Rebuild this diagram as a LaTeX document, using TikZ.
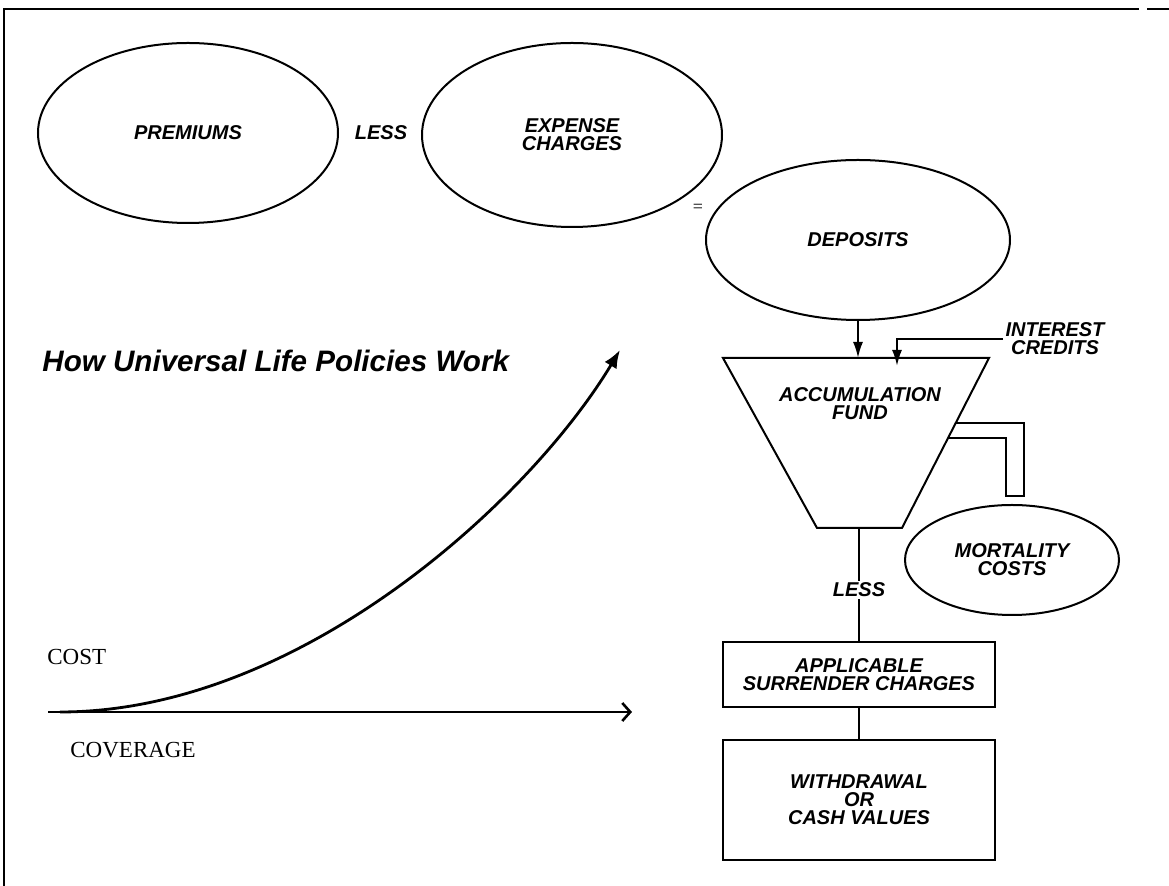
\documentclass[tikz,border=0pt]{standalone}
\usepackage{fontspec}
\setmainfont{Liberation Serif}
\newfontfamily\labfont{Liberation Sans}
\usetikzlibrary{arrows.meta,shapes.geometric}
\begin{document}
\begin{tikzpicture}[x=0.5pt,y=-0.5pt,
  lbl/.style={font=\labfont\bfseries\itshape\fontsize{10}{9}\selectfont, align=center, inner sep=1pt},
  oval/.style={ellipse, draw, line width=1pt, inner sep=0pt, lbl},
  stepbox/.style={rectangle, draw, line width=1pt, lbl, minimum width=136pt},
  serif/.style={font=\fontsize{11.5}{12}\selectfont, inner sep=0pt},
  ln/.style={line width=1pt},
  arr/.style={line width=1pt, -{Latex[length=8pt,width=5pt]}},
  axisarr/.style={line width=1.3pt, -{Straight Barb[length=4pt,width=9pt,line width=1.3pt]}},
  curvearr/.style={line width=1.4pt, -{Latex[length=9pt,width=7pt]}}]
\useasboundingbox (0,0) rectangle (1169,886);
% frame
\coordinate (tl) at (4,9);
\coordinate (tr) at (1115,9);
\coordinate (te) at (1169,9);
\coordinate (bl) at (4,886);
\draw[ln] (bl) -- (tl) -- (tr);
\draw[ln, dash pattern=on 12pt off 4pt] (tr) -- (te);
% top row
\node[oval, minimum width=150pt, minimum height=90pt] (prem) at (188,133) {PREMIUMS};
\node[lbl] (less1) at (381,133) {LESS};
\node[oval, minimum width=150pt, minimum height=92pt] (exp) at (572,135) {EXPENSE\\CHARGES};
\node[font=\fontsize{9}{9}\selectfont, inner sep=0pt] (eq) at (698,208) {=};
\node[oval, minimum width=152pt, minimum height=80pt] (dep) at (858,240) {DEPOSITS};
% funnel
\coordinate (f1) at (723,358);
\coordinate (f2) at (989,358);
\coordinate (f3) at (902,528);
\coordinate (f4) at (817,528);
\coordinate (fb) at (859,528);
\draw[ln] (f1) -- (f2) -- (f3) -- (f4) -- cycle;
\node[lbl] (acc) at (860,404) {ACCUMULATION\\FUND};
\draw[arr] (dep.south) -- (dep.south |- f1);
% interest
\node[lbl] (int) at (1055,339) {INTEREST\\CREDITS};
\coordinate (ia) at (897,366);
\draw[arr] (int.west) -| (ia);
% mortality pipe
\coordinate (p1) at (956,423);
\coordinate (p2) at (948,438);
\draw[ln] (p1) -- (1024,423) -- (1024,496) -- (1006,496) -- (1006,438) -- (p2);
\node[oval, minimum width=107pt, minimum height=55pt] (mort) at (1012,560) {MORTALITY\\COSTS};
% stem and boxes
\node[lbl] (less2) at (859,590) {LESS};
\node[stepbox, minimum height=32.5pt] (asc) at (859,674.5) {APPLICABLE\\SURRENDER CHARGES};
\node[stepbox, minimum height=60pt] (wd) at (859,800) {WITHDRAWAL\\OR\\CASH VALUES};
\draw[ln] (fb) -- (less2.north);
\draw[ln] (less2.south) -- (asc.north);
\draw[ln] (asc.south) -- (wd.north);
% title and graph
\node[anchor=west, font=\labfont\bfseries\itshape\fontsize{14.8}{16}\selectfont, inner sep=0pt] (title) at (42,361) {How Universal Life Policies Work};
\coordinate (o) at (48,712);
\coordinate (xe) at (632,712);
\coordinate (cs) at (60,712);
\coordinate (ct) at (620,350);
\draw[axisarr] (o) -- (xe);
\draw[curvearr] (cs) .. controls (300,712) and (530,500) .. (ct);
\node[serif, anchor=west] (cost) at (47,657) {COST};
\node[serif, anchor=west] (cov) at (70,750) {COVERAGE};
\end{tikzpicture}
\end{document}
